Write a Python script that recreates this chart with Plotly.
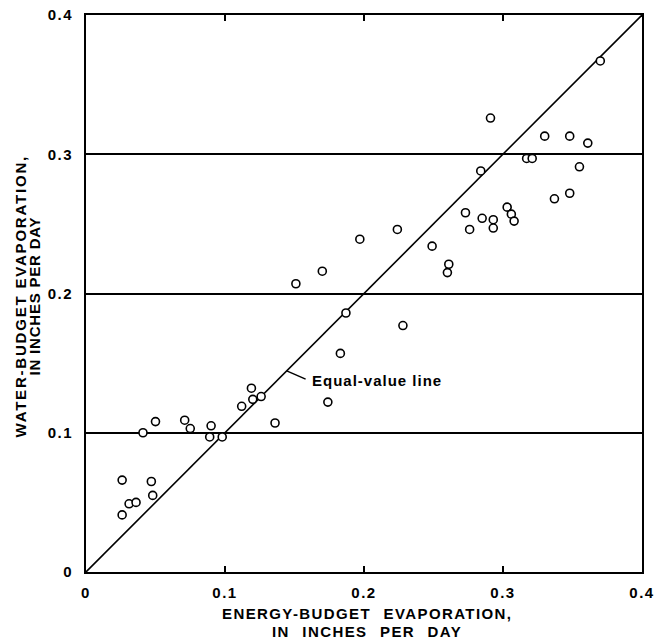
import plotly.graph_objects as go

# Energy-budget (x) vs water-budget (y) evaporation, inches per day
energy_budget = [0.026, 0.026, 0.031, 0.036, 0.047, 0.048, 0.041, 0.050, 0.071, 0.075,
                 0.090, 0.089, 0.098, 0.112, 0.119, 0.120, 0.126, 0.136, 0.151, 0.170,
                 0.197, 0.224, 0.249, 0.187, 0.228, 0.183, 0.174, 0.261, 0.260, 0.273,
                 0.276, 0.285, 0.293, 0.293, 0.303, 0.306, 0.308, 0.370, 0.291, 0.330,
                 0.348, 0.361, 0.317, 0.321, 0.284, 0.355, 0.337, 0.348]
water_budget = [0.066, 0.041, 0.049, 0.050, 0.065, 0.055, 0.100, 0.108, 0.109, 0.103,
                0.105, 0.097, 0.097, 0.119, 0.132, 0.124, 0.126, 0.107, 0.207, 0.216,
                0.239, 0.246, 0.234, 0.186, 0.177, 0.157, 0.122, 0.221, 0.215, 0.258,
                0.246, 0.254, 0.253, 0.247, 0.262, 0.257, 0.252, 0.367, 0.326, 0.313,
                0.313, 0.308, 0.297, 0.297, 0.288, 0.291, 0.268, 0.272]

equal_line = [0.0, 0.4]
tick_vals = [0, 0.1, 0.2, 0.3, 0.4]
tick_labels = ["0", "0.1", "0.2", "0.3", "0.4"]

x_title = ["ENERGY-BUDGET EVAPORATION,", "IN INCHES PER DAY"]
y_title = ["WATER-BUDGET EVAPORATION,", "IN INCHES PER DAY"]
label_text = "Equal-value line"
label_anchor = (0.1444, 0.1444)   # point on the equal-value line
label_pos = (0.161, 0.1375)       # where the label text starts

FONT = "Liberation Sans, Arial, Helvetica, sans-serif"

def spaced(s, ls, ws=0):
    return f"<span style='letter-spacing:{ls}px;word-spacing:{ws}px'>{s}</span>"

tick_text = [spaced(t, 1.5) for t in tick_labels]

fig = go.Figure()
fig.add_trace(go.Scatter(x=equal_line, y=equal_line, mode="lines",
                         line=dict(color="black", width=1.6),
                         hoverinfo="skip", showlegend=False))
fig.add_trace(go.Scatter(x=energy_budget, y=water_budget, mode="markers",
                         marker=dict(symbol="circle", size=8, color="white",
                                     line=dict(color="black", width=1.6)),
                         showlegend=False))

# leader line of the label
fig.add_shape(type="line", x0=label_anchor[0], y0=label_anchor[1],
              x1=label_pos[0] - 0.003, y1=label_pos[1] + 0.001,
              line=dict(color="black", width=1.5), layer="above")

TFONT = dict(family=FONT, size=15, color="black", weight="bold")
annos = [
    dict(x=label_pos[0], y=label_pos[1], xref="x", yref="y", xanchor="left",
         yanchor="middle", showarrow=False,
         text=spaced(label_text, 1.0), font=TFONT),
    dict(x=0.5, y=0, xref="paper", yref="paper", xanchor="center", yanchor="middle",
         yshift=-41.8, xshift=3, showarrow=False,
         text=spaced(x_title[0], 1.4, 7), font=TFONT),
    dict(x=0.5, y=0, xref="paper", yref="paper", xanchor="center", yanchor="middle",
         yshift=-59.3, xshift=3, showarrow=False,
         text=spaced(x_title[1], 1.4, 7), font=TFONT),
    dict(x=0, y=0.5, xref="paper", yref="paper", xanchor="center", yanchor="middle",
         xshift=-66, yshift=-3, textangle=-90, showarrow=False,
         text=spaced(y_title[0], 1.8), font=TFONT),
    dict(x=0, y=0.5, xref="paper", yref="paper", xanchor="center", yanchor="middle",
         xshift=-52, yshift=-3, textangle=-90, showarrow=False,
         text=spaced(y_title[1], 0.8), font=TFONT),
]

fig.update_layout(
    width=655, height=641,
    margin=dict(l=86, r=13, t=15, b=69, autoexpand=False),
    paper_bgcolor="white", plot_bgcolor="white",
    showlegend=False,
    annotations=annos,
    xaxis=dict(range=[0, 0.4], tickvals=tick_vals, ticktext=tick_text,
               showgrid=False, zeroline=False, automargin=False,
               showline=True, linecolor="black", linewidth=1.7, mirror="ticks",
               ticks="inside", ticklen=6, tickwidth=1.5, tickcolor="black",
               ticklabelstandoff=6,
               tickfont=dict(family=FONT, size=15, color="black", weight="bold")),
    yaxis=dict(range=[0, 0.4], tickvals=tick_vals, ticktext=tick_text,
               showgrid=True, gridcolor="black", gridwidth=1.6, zeroline=False,
               automargin=False,
               showline=True, linecolor="black", linewidth=1.7, mirror=True,
               ticks="", ticklabelstandoff=8,
               tickfont=dict(family=FONT, size=15, color="black", weight="bold")),
)

fig.write_html("out.html")
